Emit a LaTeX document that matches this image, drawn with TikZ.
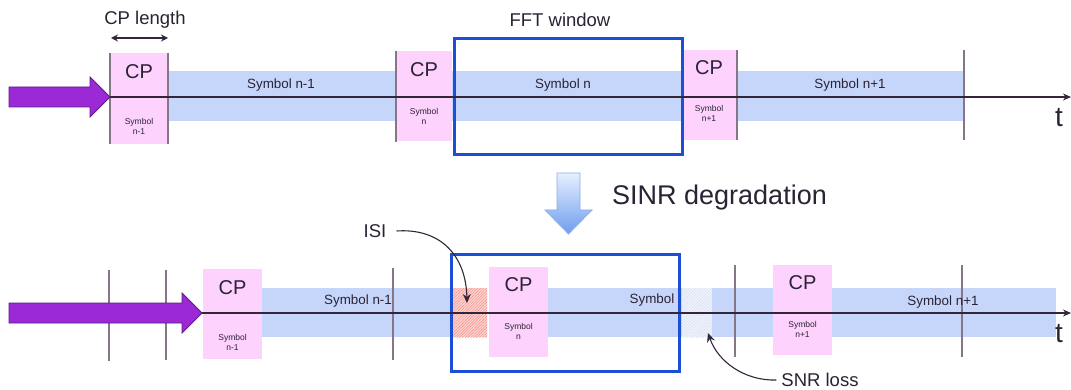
\documentclass[tikz,border=0pt]{standalone}
\usepackage{fontspec}
\setmainfont{Liberation Sans}
\usetikzlibrary{arrows.meta,patterns.meta}
\definecolor{cppink}{HTML}{FDD2FC}
\definecolor{bandblue}{HTML}{C6D6FA}
\definecolor{fftblue}{HTML}{1D4FD6}
\definecolor{purplefill}{HTML}{9B2AD6}
\definecolor{purpleline}{HTML}{5E1B86}
\definecolor{axiscol}{HTML}{33263A}
\definecolor{tickcol}{HTML}{857688}
\definecolor{txt}{HTML}{2B2233}
\definecolor{hatchbg}{HTML}{FFD3D1}
\definecolor{hatchred}{HTML}{F28C84}
\definecolor{lightbg}{HTML}{EEF3FD}
\definecolor{lighthatch}{HTML}{D5DCEC}
\definecolor{darrowline}{HTML}{8AAEE8}
\definecolor{darrowtop}{HTML}{E6EFFD}
\definecolor{darrowbot}{HTML}{6E9DEF}
\begin{document}
\begin{tikzpicture}[x=1pt,y=-1pt,
  cpbox/.style={fill=cppink,draw=none,anchor=north west,inner sep=0pt},
  band/.style={fill=bandblue,draw=none,anchor=north west,inner sep=0pt},
  fftbox/.style={draw=fftblue,line width=2.6pt,fill=none,anchor=north west,inner sep=0pt},
  tick/.style={draw=tickcol,line width=1.1pt},
  axis/.style={draw=axiscol,line width=1.2pt,-{Stealth[length=8pt,width=7pt]}},
  bigarrow/.style={fill=purplefill,draw=purpleline,line width=0.8pt},
  cptext/.style={text=txt,font=\fontsize{20}{22}\selectfont,inner sep=0pt},
  smalltext/.style={text=txt,font=\fontsize{8.5}{10}\selectfont,align=center,inner sep=0pt},
  symtext/.style={text=txt,font=\fontsize{13.4}{15}\selectfont,inner sep=0pt},
  label/.style={text=txt,font=\fontsize{18.5}{20}\selectfont,inner sep=0pt},
  ttext/.style={text=txt,font=\fontsize{28}{30}\selectfont,inner sep=0pt},
  pointer/.style={draw=axiscol,line width=1.1pt,-{Stealth[length=9pt,width=8pt]}},
  redhatch/.style={fill=hatchbg,postaction={pattern={Lines[angle=45,distance=2pt,line width=0.45pt]},pattern color=hatchred},anchor=north west,inner sep=0pt},
  lighthatchbox/.style={fill=lightbg,postaction={pattern={Lines[angle=45,distance=2.2pt,line width=0.4pt]},pattern color=lighthatch},anchor=north west,inner sep=0pt}
]
\useasboundingbox (0,0) rectangle (1071,390);
\fill[white] (0,0) rectangle (1071,390);

% ---------------- TOP ROW ----------------
\node[band,minimum width=228pt,minimum height=50pt] (bn1) at (168,71) {};
\node[band,minimum width=229pt,minimum height=50pt] (bn) at (452,71) {};
\node[band,minimum width=227pt,minimum height=50pt] (bnp1) at (737,71) {};
\node[cpbox,minimum width=58pt,minimum height=91pt] (cp1) at (110,53) {};
\node[cpbox,minimum width=56pt,minimum height=90pt] (cp2) at (396,51) {};
\node[cpbox,minimum width=56pt,minimum height=90pt] (cp3) at (681,50) {};

\draw[tick] (110,53) -- (110,144);
\draw[tick] (168,53) -- (168,144);
\draw[tick] (396,51) -- (396,142);
\draw[tick] (737,50) -- (737,140);
\draw[tick] (964,50) -- (964,140);

\node[fftbox,minimum width=228pt,minimum height=116pt] (fft1) at (453,37) {};

\coordinate (ax1s) at (110,97);
\coordinate (ax1e) at (1071,97);
\draw[axis] (ax1s) -- (ax1e);
\node[ttext] (t1) at (1059,118) {t};

\draw[bigarrow] (9,87) -- (90,87) -- (90,77) -- (110,97) -- (90,117) -- (90,107) -- (9,107) -- cycle;

\node[cptext] (cp1t) at (139,72) {CP};
\node[smalltext] (cp1s) at (139,126) {Symbol\\n-1};
\node[cptext] (cp2t) at (424,70) {CP};
\node[smalltext] (cp2s) at (424,116) {Symbol\\n};
\node[cptext] (cp3t) at (709,68) {CP};
\node[smalltext] (cp3s) at (709,113) {Symbol\\n+1};

\node[symtext] (s1) at (281,85) {Symbol n-1};
\node[symtext] (s2) at (563,85) {Symbol n};
\node[symtext] (s3) at (850,85) {Symbol n+1};

\node[label] (cplen) at (145,20) {CP length};
\coordinate (cpa) at (111,38);
\coordinate (cpb) at (168,38);
\draw[draw=axiscol,line width=1.1pt,{Stealth[length=7pt,width=7pt]}-{Stealth[length=7pt,width=7pt]}] (cpa) -- (cpb);
\node[label] (fftl) at (560,20) {FFT window};

% ---------------- MIDDLE ----------------
\draw[draw=darrowline,line width=0.8pt,top color=darrowtop,bottom color=darrowbot]
  (557,173) -- (580,173) -- (580,210) -- (592,210) -- (568.5,234) -- (545,210) -- (557,210) -- cycle;
\node[text=txt,font=\fontsize{27}{30}\selectfont,inner sep=0pt,anchor=west] (sinr) at (612,198) {SINR degradation};

% ---------------- BOTTOM ROW ----------------
\node[band,minimum width=190pt,minimum height=49pt] (b2n1) at (262,288) {};
\node[redhatch,minimum width=35pt,minimum height=49pt] (isibox) at (452,288) {};
\node[band,minimum width=134pt,minimum height=49pt] (b2n) at (548,288) {};
\node[lighthatchbox,minimum width=30pt,minimum height=49pt] (snrbox) at (682,288) {};
\node[band,minimum width=61pt,minimum height=49pt] (b2m) at (712,288) {};
\node[band,minimum width=224pt,minimum height=49pt] (b2np1) at (832,288) {};
\node[cpbox,minimum width=59pt,minimum height=90pt] (cp4) at (203,269) {};
\node[cpbox,minimum width=59pt,minimum height=90pt] (cp5) at (489,267) {};
\node[cpbox,minimum width=59pt,minimum height=90pt] (cp6) at (773,265) {};

\draw[tick] (109,270) -- (109,361);
\draw[tick] (166,270) -- (166,360);
\draw[tick] (393,268) -- (393,360);
\draw[tick] (735,265) -- (735,357);
\draw[tick] (962,265) -- (962,357);

\node[fftbox,minimum width=228pt,minimum height=117pt] (fft2) at (450,253) {};

\coordinate (ax2s) at (202,313);
\coordinate (ax2e) at (1071,313);
\draw[axis] (ax2s) -- (ax2e);
\node[ttext] (t2) at (1059,334) {t};

\draw[bigarrow] (9,303) -- (182,303) -- (182,293) -- (202,313) -- (182,333) -- (182,323) -- (9,323) -- cycle;

\node[cptext] (cp4t) at (232.5,288) {CP};
\node[smalltext] (cp4s) at (232.5,342) {Symbol\\n-1};
\node[cptext] (cp5t) at (518.5,285) {CP};
\node[smalltext] (cp5s) at (518.5,331) {Symbol\\n};
\node[cptext] (cp6t) at (802.5,283) {CP};
\node[smalltext] (cp6s) at (802.5,329) {Symbol\\n+1};

\node[symtext] (s4) at (358,301) {Symbol n-1};
\node[symtext] (s5) at (652,300) {Symbol};
\node[symtext] (s6) at (943,302) {Symbol n+1};

\node[label] (isi) at (375,231) {ISI};
\coordinate (isitip) at (467,303);
\draw[pointer] (isi.east) ++(10,0) .. controls (440,228) and (466,255) .. (isitip);

\node[label] (snr) at (820,380) {SNR loss};
\coordinate (snrtip) at (708,333);
\draw[pointer] (snr.west) ++(-5,0) .. controls (745,381) and (718,362) .. (snrtip);
\end{tikzpicture}
\end{document}
